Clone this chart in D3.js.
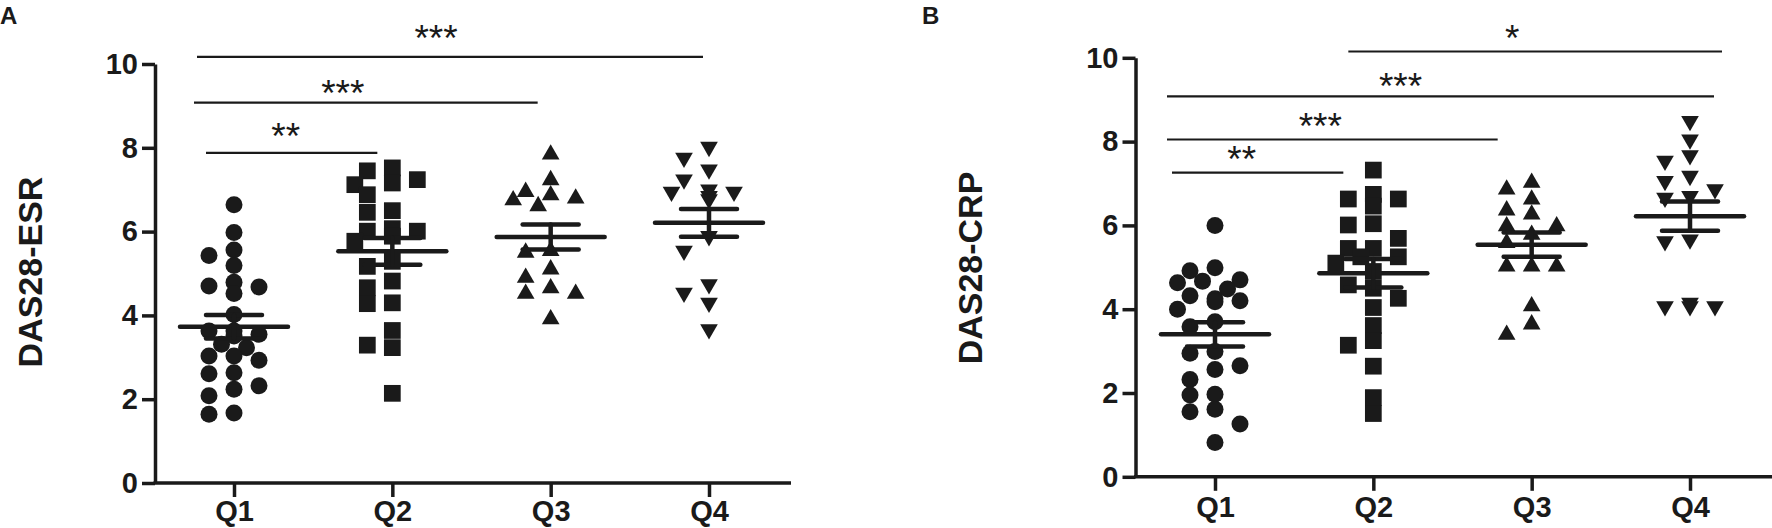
<!DOCTYPE html>
<html>
<head>
<meta charset="utf-8">
<script src="https://cdn.jsdelivr.net/npm/d3@7"></script>
<style>
  body { margin: 0; background: #fff; }
  svg text { font-family: "Liberation Sans", Arial, sans-serif; fill: #1a1a1a; }
</style>
</head>
<body>
<div id="chart"></div>
<script>
const width = 1772;
const height = 528;
const ink = "#1a1a1a";

// groups and ticks
const categories = ["Q1", "Q2", "Q3", "Q4"];
const yTicks = [0, 2, 4, 6, 8, 10];

// panel A: DAS28-ESR values per quartile
const esrQ1 = [6.64, 5.98, 5.43, 5.56, 5.19, 4.70, 4.79, 4.68, 4.52, 4.02, 3.63, 3.55, 3.63, 3.51,
  3.23, 3.31, 2.93, 3.03, 3.03, 2.61, 2.63, 2.32, 2.24, 2.08, 1.64, 1.67];
const esrQ2 = [7.52, 7.45, 7.24, 7.12, 7.16, 6.88, 6.50, 6.46, 6.01, 6.07, 6.01, 5.89, 5.77,
  5.29, 5.17, 4.82, 4.66, 4.28, 4.30, 3.64, 3.29, 3.23, 2.14];
const esrQ3 = [7.84, 7.23, 6.75, 6.87, 6.95, 6.79, 6.61, 5.54, 5.50, 4.90, 5.10, 4.52, 4.52, 4.65, 3.91];
const esrQ4 = [8.02, 7.76, 7.48, 7.24, 7.00, 6.95, 6.95, 6.85, 6.77, 5.89, 5.54, 4.74, 4.54, 4.30, 3.67];
const esrMean = [3.73, 5.53, 5.87, 6.21];
const esrSem = [0.28, 0.32, 0.30, 0.33];

// panel B: DAS28-CRP values per quartile
const crpQ1 = [6.00, 4.92, 4.99, 4.70, 4.67, 4.63, 4.48, 4.32, 4.25, 4.18, 4.20, 4.00, 3.70, 3.58,
  2.99, 2.95, 2.65, 2.56, 2.32, 1.97, 1.95, 1.61, 1.55, 1.26, 0.82];
const crpQ2 = [7.32, 6.74, 6.63, 6.63, 6.46, 6.04, 6.01, 5.69, 5.45, 5.45, 5.25, 5.25, 5.10, 4.90,
  4.58, 4.50, 4.26, 4.04, 3.61, 3.25, 3.14, 2.64, 1.89, 1.51];
const crpQ3 = [7.02, 6.86, 6.62, 6.26, 6.36, 5.98, 5.98, 5.78, 5.58, 5.02, 5.02, 5.02, 4.07, 3.64, 3.39];
const crpQ4 = [8.49, 8.05, 7.67, 7.54, 7.18, 7.06, 6.86, 6.70, 6.66, 5.66, 5.62, 4.07, 4.07, 4.15, 4.07];
const crpMean = [3.40, 4.86, 5.54, 6.22];
const crpSem = [0.29, 0.34, 0.29, 0.35];

// significance brackets (level in y units)
const esrSig = [
  { from: "Q1", to: "Q2", label: "**", level: 7.88 },
  { from: "Q1", to: "Q3", label: "***", level: 9.08 },
  { from: "Q1", to: "Q4", label: "***", level: 10.17 }
];
const crpSig = [
  { from: "Q1", to: "Q2", label: "**", level: 7.26 },
  { from: "Q1", to: "Q3", label: "***", level: 8.05 },
  { from: "Q1", to: "Q4", label: "***", level: 9.08 },
  { from: "Q2", to: "Q4", label: "*", level: 10.15 }
];

const symbols = [d3.symbolCircle, d3.symbolSquare, d3.symbolTriangle, d3.symbolTriangle];
const symbolSizes = [227, 280, 135, 135];

const svg = d3.select("#chart")
  .append("svg")
  .attr("width", width)
  .attr("height", height);

// simple column-scatter placement
function swarm(values, y) {
  const placed = [];
  const slots = [0, -25, 25, -12.5, 12.5, -37.5, 37.5];
  values.slice().sort((a, b) => b - a).forEach(v => {
    const py = y(v);
    const s = slots.find(s => placed.every(q => Math.hypot(q.x - s, q.y - py) >= 15));
    placed.push({ x: s === undefined ? 0 : s, y: py, v });
  });
  return placed;
}

function drawPanel(opt) {
  const g = svg.append("g");

  const y = d3.scaleLinear().domain([0, 10]).range([opt.y0, opt.y10]);
  const x = d3.scalePoint().domain(categories).range([opt.q1, opt.q4]);

  // y axis
  const yAxis = g.append("g")
    .attr("transform", `translate(${opt.axisX},0)`)
    .call(d3.axisLeft(y).tickValues(yTicks).tickSize(13).tickSizeOuter(0).tickPadding(4));
  yAxis.select(".domain").attr("stroke", ink).attr("stroke-width", 3.5);
  yAxis.selectAll(".tick line").attr("stroke", ink).attr("stroke-width", 3.5);
  yAxis.selectAll(".tick text")
    .style("font-size", "29px").style("font-weight", "bold").attr("fill", ink);

  // x axis
  g.append("line")
    .attr("x1", opt.axisX - 1.5).attr("x2", opt.xEnd)
    .attr("y1", opt.y0).attr("y2", opt.y0)
    .attr("stroke", ink).attr("stroke-width", 3.5);
  const xAxis = g.append("g")
    .attr("transform", `translate(0,${opt.y0})`)
    .call(d3.axisBottom(x).tickSize(14).tickPadding(opt.xPad));
  xAxis.select(".domain").remove();
  xAxis.selectAll(".tick line").attr("stroke", ink).attr("stroke-width", 3.5);
  xAxis.selectAll(".tick text")
    .style("font-size", "29px").style("font-weight", "bold").attr("fill", ink);

  // axis title
  g.append("text")
    .attr("transform", `translate(${opt.titleX},${opt.titleY}) rotate(-90)`)
    .attr("text-anchor", "middle")
    .style("font-size", "34px").style("font-weight", "bold")
    .text(opt.title);

  // panel letter
  g.append("text")
    .attr("x", opt.letterX).attr("y", 24)
    .style("font-size", "24px").style("font-weight", "bold")
    .text(opt.letter);

  // points
  opt.groups.forEach((vals, i) => {
    const cx = x(categories[i]);
    g.append("g")
      .selectAll("path")
      .data(swarm(vals, y))
      .enter()
      .append("path")
      .attr("d", d3.symbol().type(symbols[i]).size(symbolSizes[i]))
      .attr("transform", d => `translate(${cx + d.x},${d.y})${i === 3 ? " rotate(180)" : ""}`)
      .attr("fill", ink);
  });

  // mean and SEM
  const bars = g.append("g").attr("stroke", ink).attr("stroke-linecap", "round");
  categories.forEach((c, i) => {
    const cx = x(c);
    const m = opt.mean[i], s = opt.sem[i];
    bars.append("line")
      .attr("x1", cx - 54).attr("x2", cx + 54)
      .attr("y1", y(m)).attr("y2", y(m))
      .attr("stroke-width", 4.5);
    [m - s, m + s].forEach(v => {
      bars.append("line")
        .attr("x1", cx - 28).attr("x2", cx + 28)
        .attr("y1", y(v)).attr("y2", y(v))
        .attr("stroke-width", 4.5);
    });
    bars.append("line")
      .attr("x1", cx).attr("x2", cx)
      .attr("y1", y(m - s)).attr("y2", y(m + s))
      .attr("stroke-width", 4.5);
  });

  // significance
  opt.sig.forEach((d, i) => {
    const nudge = opt.sigNudge[i];
    const x1 = x(d.from) + nudge[0], x2 = x(d.to) + nudge[1];
    g.append("line")
      .attr("x1", x1).attr("x2", x2)
      .attr("y1", y(d.level)).attr("y2", y(d.level))
      .attr("stroke", ink).attr("stroke-width", 2.2);
    g.append("text")
      .attr("x", (x1 + x2) / 2 + nudge[2])
      .attr("y", y(d.level) + nudge[3])
      .attr("text-anchor", "middle")
      .style("font-size", "37px")
      .text(d.label);
  });
}

drawPanel({
  letter: "A", letterX: 0,
  title: "DAS28-ESR", titleX: 41.5, titleY: 272,
  axisX: 155, xEnd: 791, q1: 234, q4: 709, y0: 483, y10: 64, xPad: 3,
  groups: [esrQ1, esrQ2, esrQ3, esrQ4], mean: esrMean, sem: esrSem, sig: esrSig,
  // [start dx, end dx, label dx, label dy]
  sigNudge: [[-28, -15, -6, -4], [-40, -13, -23, 3], [-37, -6, -14, -6]]
});

drawPanel({
  letter: "B", letterX: 922,
  title: "DAS28-CRP", titleX: 981.5, titleY: 268,
  axisX: 1135.5, xEnd: 1772, q1: 1215, q4: 1690, y0: 476.8, y10: 57.8, xPad: 6,
  groups: [crpQ1, crpQ2, crpQ3, crpQ4], mean: crpMean, sem: crpSem, sig: crpSig,
  sigNudge: [[-43, -30, -16, -1], [-48, -34, -12, -1], [-48, 24, -40, 3], [-25, 32, -23, -1]]
});
</script>
</body>
</html>
